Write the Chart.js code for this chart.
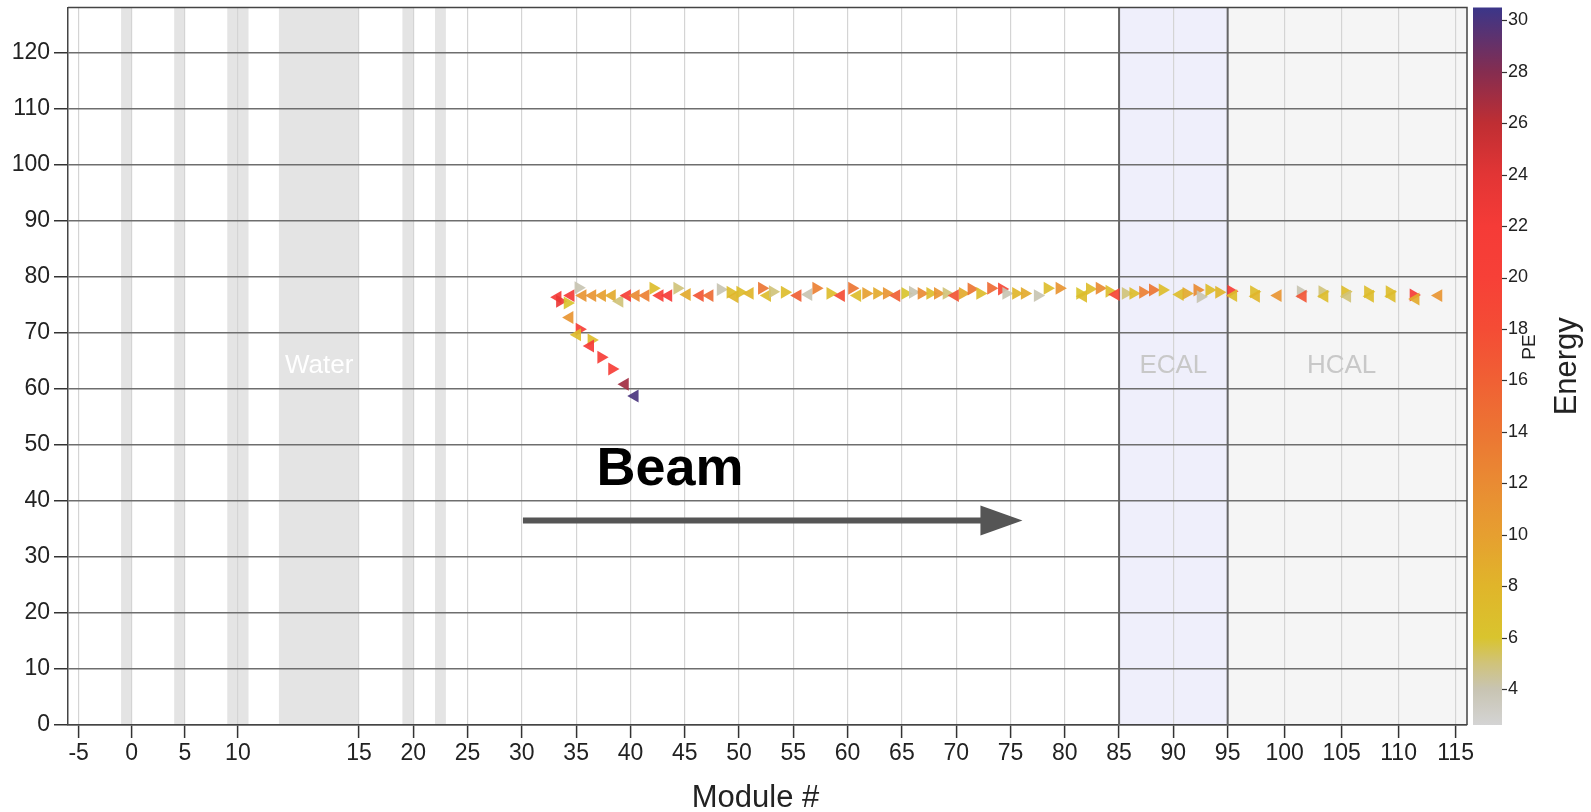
<!DOCTYPE html>
<html><head><meta charset="utf-8">
<script src="https://cdn.jsdelivr.net/npm/chart.js@4.4.1/dist/chart.umd.min.js"></script>
<style>html,body{margin:0;padding:0;background:#fff;}canvas{display:block;}</style>
</head><body>
<canvas id="c" width="1591" height="812"></canvas>
<script>
// ---- axis definition: module number -> detector depth (module-width units), piecewise linear
const axisModule = [-6, 11, 15, 95, 116];
const axisZ      = [-5.862, 10.747, 20.91, 100.83, 122.85];
const tickModules = [-5,0,5,10,15,20,25,30,35,40,45,50,55,60,65,70,75,80,85,90,95,100,105,110,115];
const yRange = [0, 128];
const xTitle = 'Module #';
// ---- detector regions (module #)
const targetBands = [[-1,0],[4,5],[9,11],[12.1,15],[19,20],[22,23]];
const ecalRange = [85, 95];
const hcalRange = [95, 116];
const regionNames   = ['Water', 'ECAL', 'HCAL'];
const regionModules = [13.56, 90, 105];
const regionY = 64;
// ---- annotation
const beamText = 'Beam';
const beamTextAt = [43.65, 42.8];
const beamArrow = [30.1, 76.1, 36.5]; // from module, to module, y
// ---- energy colour scale
const energyRange = [2.6, 30.5];
const energyTicks = [4,6,8,10,12,14,16,18,20,22,24,26,28,30];
const energyStops  = [2.6, 4, 5, 6, 8, 10, 12, 14, 16, 18, 20, 22, 24, 26, 28, 30.5];
const energyColors = ['#d4d4d4','#c8c4b2','#d0c37a','#d9c42e','#e0b52a','#e69f30','#e98b33','#ec7533','#f06034','#f44c35','#f74037','#f53b37','#e23535','#bf2e33','#852d50','#3b3689'];
// ---- hits
const hitModule = [33.3,33.5,34.2,34.5,35.2,35.6,36.5,37.4,38.3,39.0,39.7,40.5,41.4,42.1,42.7,43.5,44.3,45.2,46.4,47.3,
  48.3,49.2,49.6,50.1,51.0,52.1,52.6,53.1,54.2,55.4,56.4,57.1,58.4,59.4,60.4,60.9,61.7,62.7,63.6,64.5,
  65.3,66.0,66.8,67.6,68.3,69.1,69.9,70.6,71.4,72.2,73.2,74.2,74.6,75.5,76.3,77.5,78.4,79.5,81.4,81.7,
  82.3,83.2,84.1,84.7,85.6,86.3,87.2,88.1,89.0,90.6,91.2,92.2,92.5,93.3,94.2,95.3,95.5,
  97.3,97.5,99.4,101.4,101.6,103.3,103.5,105.3,105.5,107.3,107.5,109.2,109.4,111.3,111.5,113.5,
  34.4,35.3,35.1,36.4,36.3,37.3,38.3,39.5,40.4];
const hitY = [76.3,75.6,75.3,76.6,78.0,76.6,76.6,76.6,76.6,75.6,76.6,76.6,76.6,77.9,76.6,76.6,77.9,76.8,76.6,76.6,
  77.7,77.2,76.4,77.2,77.0,77.9,76.6,77.3,77.2,76.6,76.8,77.9,77.0,76.6,77.9,76.6,77.0,77.0,77.0,76.6,
  77.0,77.2,77.0,77.0,77.0,77.0,76.6,77.0,77.8,77.0,77.9,77.8,77.0,77.0,77.0,76.6,77.9,77.9,77.0,76.5,
  77.8,77.9,77.4,76.8,77.0,77.0,77.2,77.6,77.6,76.8,77.0,77.6,76.4,77.6,77.2,77.4,76.6,
  77.3,76.5,76.6,77.3,76.5,77.3,76.5,77.3,76.5,77.3,76.5,77.3,76.5,76.7,76.0,76.6,
  72.7,70.6,69.6,68.7,67.6,65.6,63.5,60.8,58.7];
const hitPE = [22,23,6,22,4,11,11,10,9,5,21,12,13,7,20,22,5,9,17,15,
  4,7,8,7,8,14,7,5,7,16,4,13,7,18,14,7,10,9,11,16,
  6,4,12,7,11,5,17,9,14,7,15,19,4,8,9,4,7,11,6,7,
  7,12,7,19,5,7,13,14,7,7,9,12,4,7,8,21,7,
  7,8,11,4,17,5,7,7,5,7,7,7,7,22,9,11,
  11,21,7,7,22,21,21,27,30];
const hitSide = ['L','R','R','L','R','L','L','L','L','L','L','L','L','R','L','L','R','L','L','L',
  'R','R','L','R','L','R','L','R','R','L','L','R','R','L','R','L','R','R','R','L',
  'R','R','R','R','R','R','L','R','R','R','R','R','R','R','R','R','R','R','R','L',
  'R','R','R','L','R','R','R','R','R','L','R','R','R','R','R','R','L',
  'R','L','L','R','L','R','L','R','L','R','L','R','L','R','L','L',
  'L','R','L','R','L','R','R','L','L'];

const REG = '"Liberation Sans", Arial, Helvetica, sans-serif';

function toZ(m) {
  let i = 0;
  while (i < axisModule.length - 2 && m > axisModule[i + 1]) i++;
  const t = (m - axisModule[i]) / (axisModule[i + 1] - axisModule[i]);
  return axisZ[i] + t * (axisZ[i + 1] - axisZ[i]);
}
function hexRgb(h) { return [1,3,5].map(k => parseInt(h.substr(k, 2), 16)); }
function peColor(v) {
  let i = 0;
  if (v <= energyStops[0]) return energyColors[0];
  while (i < energyStops.length - 2 && v > energyStops[i + 1]) i++;
  const t = Math.min(1, (v - energyStops[i]) / (energyStops[i + 1] - energyStops[i]));
  const a = hexRgb(energyColors[i]), b = hexRgb(energyColors[i + 1]);
  const c = a.map((x, k) => Math.round(x + t * (b[k] - x)));
  return 'rgba(' + c.join(',') + ',0.92)';
}

const decor = {
  id: 'decor',
  beforeDraw(chart) {
    const {ctx, chartArea: a, scales: {x}} = chart;
    const px = m => x.getPixelForValue(toZ(m));
    ctx.save();
    ctx.fillStyle = '#efeffb';
    ctx.fillRect(px(ecalRange[0]), a.top, px(ecalRange[1]) - px(ecalRange[0]), a.bottom - a.top);
    ctx.fillStyle = '#f5f5f5';
    ctx.fillRect(px(hcalRange[0]), a.top, a.right - px(hcalRange[0]), a.bottom - a.top);
    ctx.fillStyle = '#e4e4e4';
    targetBands.forEach(([m0, m1]) => ctx.fillRect(px(m0), a.top, px(m1) - px(m0), a.bottom - a.top));
    ctx.restore();
  },
  beforeDatasetsDraw(chart) {
    const {ctx, chartArea: a, scales: {x, y}} = chart;
    const px = m => x.getPixelForValue(toZ(m));
    ctx.save();
    ctx.font = '26px ' + REG;
    ctx.textAlign = 'center';
    ctx.textBaseline = 'middle';
    regionNames.forEach((n, i) => {
      ctx.fillStyle = i === 0 ? '#ffffff' : '#c8c8c8';
      ctx.fillText(n, px(regionModules[i]), y.getPixelForValue(regionY));
    });
    ctx.strokeStyle = '#666';
    ctx.lineWidth = 2;
    [ecalRange[0], ecalRange[1]].forEach(m => {
      ctx.beginPath(); ctx.moveTo(px(m), a.top); ctx.lineTo(px(m), a.bottom); ctx.stroke();
    });
    ctx.strokeStyle = '#444';
    ctx.lineWidth = 1.5;
    ctx.beginPath();
    ctx.moveTo(a.left, a.top); ctx.lineTo(a.right, a.top); ctx.lineTo(a.right, a.bottom);
    ctx.stroke();
    ctx.restore();
  },
  afterDatasetsDraw(chart) {
    const {ctx, scales: {x, y}} = chart;
    const px = m => x.getPixelForValue(toZ(m));
    ctx.save();
    ctx.fillStyle = '#000';
    ctx.font = 'bold 54px ' + REG;
    ctx.textAlign = 'center';
    ctx.textBaseline = 'alphabetic';
    ctx.fillText(beamText, px(beamTextAt[0]), y.getPixelForValue(beamTextAt[1]));
    const x0 = px(beamArrow[0]), x1 = px(beamArrow[1]), ay = y.getPixelForValue(beamArrow[2]);
    const head = 42;
    ctx.strokeStyle = '#555';
    ctx.fillStyle = '#555';
    ctx.lineWidth = 6;
    ctx.beginPath(); ctx.moveTo(x0, ay); ctx.lineTo(x1 - head + 2, ay); ctx.stroke();
    ctx.beginPath(); ctx.moveTo(x1, ay); ctx.lineTo(x1 - head, ay - 15); ctx.lineTo(x1 - head, ay + 15); ctx.closePath(); ctx.fill();
    ctx.restore();
  },
  afterDraw(chart) {
    const {ctx, chartArea: a, scales: {e, x}} = chart;
    ctx.save();
    // x-axis title
    ctx.fillStyle = '#222';
    ctx.font = '31px ' + REG;
    ctx.textAlign = 'center';
    ctx.textBaseline = 'middle';
    ctx.fillText(xTitle, (a.left + a.right) / 2 - 12, x.bottom - 14);
    // colour bar
    const bx = e.left + 6, bw = 29;
    const yTop = e.getPixelForValue(energyRange[1]), yBot = e.getPixelForValue(energyRange[0]);
    const g = ctx.createLinearGradient(0, yBot, 0, yTop);
    energyStops.forEach((v, i) => g.addColorStop((v - energyRange[0]) / (energyRange[1] - energyRange[0]), energyColors[i]));
    ctx.fillStyle = g;
    ctx.fillRect(bx, yTop, bw, yBot - yTop);
    ctx.strokeStyle = '#333';
    ctx.lineWidth = 1.2;
    energyTicks.forEach(v => {
      const ty = Math.round(e.getPixelForValue(v)) + 0.5;
      ctx.beginPath(); ctx.moveTo(bx + bw, ty); ctx.lineTo(bx + bw + 5, ty); ctx.stroke();
    });
    ctx.fillStyle = '#222';
    ctx.save();
    ctx.translate(e.left + 63, e.getPixelForValue(17.3));
    ctx.rotate(-Math.PI / 2);
    ctx.font = '19px ' + REG;
    ctx.fillText('PE', 0, 0);
    ctx.restore();
    ctx.save();
    ctx.translate(e.left + 100, (a.top + a.bottom) / 2);
    ctx.rotate(-Math.PI / 2);
    ctx.font = '31px ' + REG;
    ctx.fillText('Energy', 0, 0);
    ctx.restore();
    ctx.restore();
  }
};

function noVPad(s) { s.paddingTop = 0; s.paddingBottom = 0; }

new Chart(document.getElementById('c'), {
  type: 'scatter',
  data: {
    datasets: [{
      data: hitModule.map((m, i) => ({x: toZ(m), y: hitY[i]})),
      pointStyle: 'triangle',
      pointRadius: 7.5,
      pointHoverRadius: 7.5,
      pointRotation: c => hitSide[c.dataIndex] === 'L' ? -90 : 90,
      backgroundColor: c => peColor(hitPE[c.dataIndex]),
      borderWidth: 0
    }]
  },
  options: {
    responsive: false,
    animation: false,
    devicePixelRatio: 1,
    layout: {padding: {top: 5, left: 0, right: 0, bottom: 0}},
    plugins: {legend: {display: false}, tooltip: {enabled: false}},
    scales: {
      x: {
        type: 'linear',
        min: toZ(axisModule[0]),
        max: toZ(axisModule[axisModule.length - 1]),
        afterBuildTicks: s => { s.ticks = tickModules.map(m => ({value: toZ(m)})); },
        ticks: {
          autoSkip: false, maxRotation: 0, minRotation: 0, padding: 2, color: '#222',
          font: {family: REG, size: 23},
          callback: (v, i) => String(tickModules[i])
        },
        grid: {color: '#d4d4d4', lineWidth: 1.2, tickLength: 13, tickColor: '#333', tickWidth: 1.5},
        border: {display: true, color: '#444', width: 1.5},
        title: {display: false},
        afterFit: s => { s.height = 87; s.paddingLeft = 0; s.paddingRight = 0; }
      },
      y: {
        min: yRange[0], max: yRange[1],
        ticks: {stepSize: 10, includeBounds: false, padding: 4, color: '#222', font: {family: REG, size: 23}},
        grid: {color: '#6e6e6e', lineWidth: 1.5, tickLength: 14, tickColor: '#333', tickWidth: 1.5},
        border: {display: true, color: '#444', width: 1.5},
        afterFit: s => { s.width = 68; noVPad(s); }
      },
      e: {
        axis: 'y',
        position: 'right',
        min: energyRange[0], max: energyRange[1],
        afterBuildTicks: s => { s.ticks = energyTicks.map(v => ({value: v})); },
        ticks: {padding: 0, color: '#222', font: {family: REG, size: 18}},
        grid: {display: false, drawTicks: true, tickLength: 41},
        border: {display: false},
        afterFit: s => { s.width = 124; noVPad(s); }
      }
    }
  },
  plugins: [decor]
});
</script>
</body></html>
